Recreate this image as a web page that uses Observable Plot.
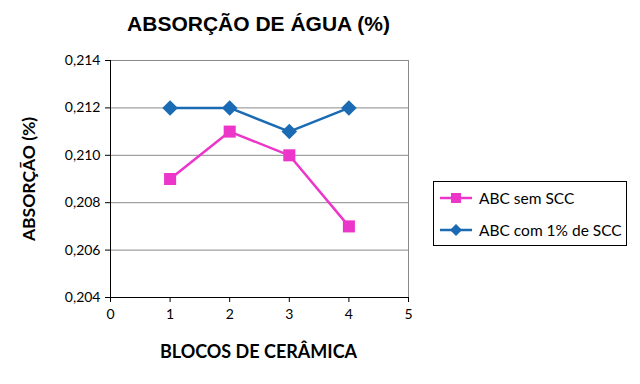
<!DOCTYPE html>
<html>
<head>
<meta charset="utf-8">
<script src="https://cdn.jsdelivr.net/npm/d3@7"></script>
<script src="https://cdn.jsdelivr.net/npm/@observablehq/plot@0.6"></script>
<style>
  html, body { margin: 0; padding: 0; background: #fff; }
  #wrap { position: relative; width: 640px; height: 384px; overflow: hidden; font-family: Lato, sans-serif; }
  #wrap svg.plot { position: absolute; left: 0; top: 0; }
  .t { position: absolute; font-family: Lato, sans-serif; font-weight: bold; color: #000; white-space: nowrap; }
  #title { left: 0; width: 517px; top: 12px; text-align: center; font-size: 21px; font-family: "Liberation Sans", Arial, sans-serif; }
  #ylab { left: 28px; top: 179px; font-size: 17.5px; transform: translate(-50%, -50%) rotate(-90deg); }
  #xlab { left: 0; width: 517px; top: 340px; text-align: center; font-size: 18px; }
  #legend { position: absolute; left: 433px; top: 181px; width: 192px; height: 63px; border: 1px solid #000; background: #fff; }
  .row { position: absolute; left: 6px; height: 20px; display: flex; align-items: center; font-size: 15.5px; color: #000; }
  .row svg { margin-right: 7px; }
</style>
</head>
<body>
<div id="wrap">
  <div class="t" id="title">ABSORÇÃO DE ÁGUA (%)</div>
  <div class="t" id="ylab">ABSORÇÃO (%)</div>
  <div class="t" id="xlab">BLOCOS DE CERÂMICA</div>
  <div id="legend"></div>
</div>
<script>
const blocos = [1, 2, 3, 4];
const semSCC = [0.209, 0.211, 0.210, 0.207];
const comSCC = [0.212, 0.212, 0.211, 0.212];
const seriesNames = ["ABC sem SCC", "ABC com 1% de SCC"];
const seriesColors = ["#EC36C9", "#1A6BB3"];
const yTicks = [0.204, 0.206, 0.208, 0.210, 0.212, 0.214];
const xTicks = [0, 1, 2, 3, 4, 5];

const squareSym = { draw(ctx, size) { const h = Math.sqrt(size) / 2; ctx.moveTo(-h, -h); ctx.lineTo(h, -h); ctx.lineTo(h, h); ctx.lineTo(-h, h); ctx.closePath(); } };
const diamondSym = { draw(ctx, size) { const s = Math.sqrt(size / 2); ctx.moveTo(0, -s); ctx.lineTo(s, 0); ctx.lineTo(0, s); ctx.lineTo(-s, 0); ctx.closePath(); } };

const data = [];
blocos.forEach((b, i) => data.push({ x: b, y: semSCC[i], s: seriesNames[0] }));
blocos.forEach((b, i) => data.push({ x: b, y: comSCC[i], s: seriesNames[1] }));
const sem = data.filter(d => d.s === seriesNames[0]);
const com = data.filter(d => d.s === seriesNames[1]);

const fmt = v => d3.format(".3f")(v).replace(".", ",");

const chart = Plot.plot({
  width: 640,
  height: 384,
  marginLeft: 110,
  marginRight: 232,
  marginTop: 60,
  marginBottom: 87,
  style: { fontFamily: "Lato, sans-serif", fontSize: "14px", color: "#000", background: "transparent" },
  x: { domain: [0, 5], ticks: xTicks, tickFormat: d => String(d) },
  y: { domain: [0.204, 0.214], ticks: yTicks, tickFormat: fmt },
  marks: [
    Plot.ruleY(yTicks, { stroke: "#8a8a8a", strokeWidth: 1 }),
    Plot.ruleX([5], { stroke: "#8a8a8a", strokeWidth: 1 }),
    Plot.ruleX([0], { stroke: "#000", strokeWidth: 1 }),
    Plot.ruleY([0.204], { stroke: "#000", strokeWidth: 1 }),
    Plot.axisY({ ticks: yTicks, tickFormat: fmt, tickSize: 5, tickPadding: 5, label: null, fontSize: 14 }),
    Plot.axisX({ ticks: xTicks, tickFormat: d => String(d), tickSize: 5, tickPadding: 7, label: null, fontSize: 14 }),
    Plot.line(sem, { x: "x", y: "y", stroke: seriesColors[0], strokeWidth: 2.5 }),
    Plot.line(com, { x: "x", y: "y", stroke: seriesColors[1], strokeWidth: 2.5 }),
    Plot.dot(sem, { x: "x", y: "y", symbol: squareSym, r: 6.8, fill: seriesColors[0], stroke: "none" }),
    Plot.dot(com, { x: "x", y: "y", symbol: diamondSym, r: 6.2, fill: seriesColors[1], stroke: "none" })
  ]
});
chart.classList.add("plot");
document.getElementById("wrap").insertBefore(chart, document.getElementById("title"));

const legend = document.getElementById("legend");
const markers = [
  '<rect x="11" y="5" width="10" height="10"/>',
  '<path d="M16 4 L22 10 L16 16 L10 10 Z"/>'
];
seriesNames.forEach((name, i) => {
  const row = document.createElement("div");
  row.className = "row";
  row.style.top = (i === 0 ? 6 : 38) + "px";
  row.innerHTML = `<svg width="32" height="20"><line x1="0" x2="32" y1="10" y2="10" stroke="${seriesColors[i]}" stroke-width="2.5"/><g fill="${seriesColors[i]}">${markers[i]}</g></svg><span>${name}</span>`;
  legend.appendChild(row);
});
</script>
</body>
</html>
